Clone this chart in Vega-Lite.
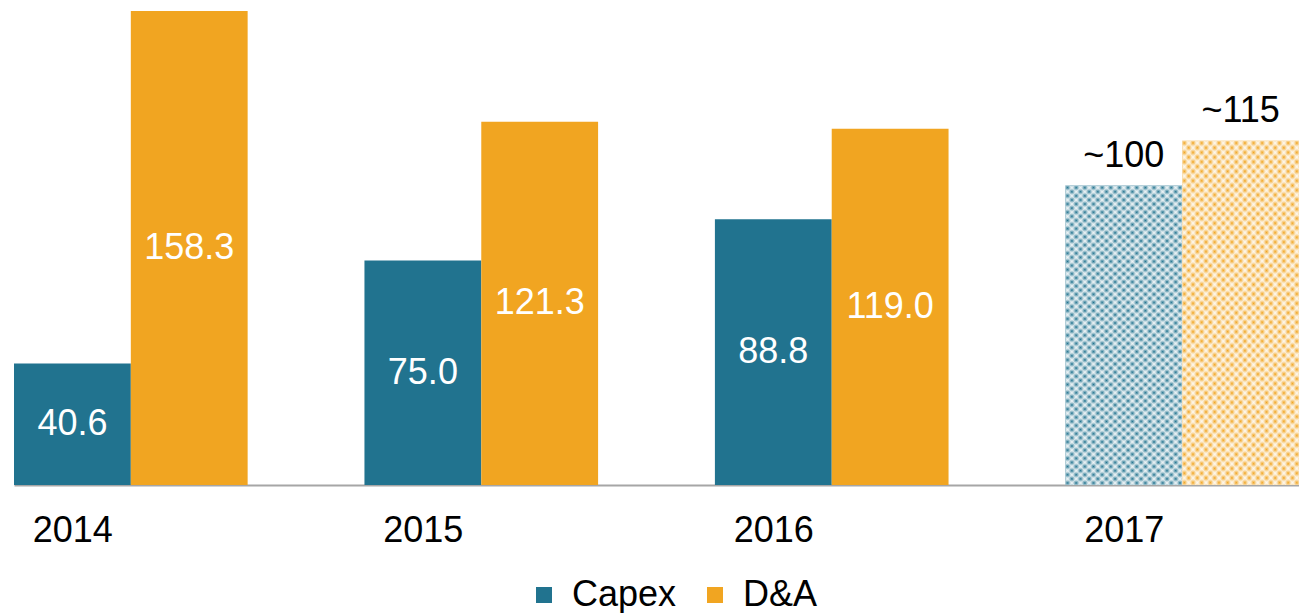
{
  "$schema": "https://vega.github.io/schema/vega-lite/v6.json",
  "width": 1285,
  "height": 485,
  "padding": {"left": 14, "top": 0, "right": 0, "bottom": 0},
  "background": "white",
  "config": {
    "view": {"stroke": null},
    "font": "Liberation Sans",
    "axis": {"grid": false}
  },
  "data": {
    "values": [
      {"year": "2014", "series": "Capex", "value": 40.6, "label": "40.6"},
      {"year": "2014", "series": "D&A", "value": 158.3, "label": "158.3"},
      {"year": "2015", "series": "Capex", "value": 75.0, "label": "75.0"},
      {"year": "2015", "series": "D&A", "value": 121.3, "label": "121.3"},
      {"year": "2016", "series": "Capex", "value": 88.8, "label": "88.8"},
      {"year": "2016", "series": "D&A", "value": 119.0, "label": "119.0"},
      {"year": "2017", "series": "Capex", "value": 100, "label": "~100"},
      {"year": "2017", "series": "D&A", "value": 115, "label": "~115"}
    ]
  },
  "encoding": {
    "x": {
      "field": "year",
      "type": "nominal",
      "title": null,
      "scale": {"domain": ["2014", "2015", "2016", "2017"], "paddingInner": 0.3333, "paddingOuter": 0},
      "axis": {
        "domainColor": "#a6a6a6",
        "domainWidth": 2,
        "ticks": false,
        "labelFontSize": 36,
        "labelColor": "#000000",
        "labelPadding": 28,
        "labelOffset": -58,
        "labelAngle": 0
      }
    },
    "xOffset": {
      "field": "series",
      "type": "nominal",
      "scale": {"domain": ["Capex", "D&A"], "paddingInner": 0, "paddingOuter": 0}
    }
  },
  "layer": [
    {
      "mark": {"type": "bar"},
      "encoding": {
        "y": {"field": "value", "type": "quantitative", "scale": {"domain": [0, 162], "nice": false}, "axis": null},
        "color": {
          "field": "series",
          "type": "nominal",
          "scale": {"domain": ["Capex", "D&A"], "range": ["#21738F", "#F1A521"]},
          "legend": {
            "orient": "none",
            "legendX": 512,
            "legendY": 577,
            "direction": "horizontal",
            "title": null,
            "symbolType": "square",
            "symbolSize": 256,
            "symbolStrokeWidth": 0,
            "labelFontSize": 36,
            "labelColor": "#000000",
            "labelOffset": 10,
            "columnPadding": 20
          }
        }
      }
    },
    {
      "transform": [{"filter": "datum.year == '2017'"}],
      "mark": {
        "type": "bar",
        "fillOpacity": 0.75,
        "fill": {
          "gradient": "linear", "x1": 0, "y1": 0, "x2": 0.446, "y2": 1.205,
          "stops": [
            {"offset": 0, "color": "#fff"}, {"offset": 0.01, "color": "rgba(255,255,255,0)"},
            {"offset": 0.02, "color": "#fff"}, {"offset": 0.03, "color": "rgba(255,255,255,0)"},
            {"offset": 0.04, "color": "#fff"}, {"offset": 0.05, "color": "rgba(255,255,255,0)"},
            {"offset": 0.06, "color": "#fff"}, {"offset": 0.07, "color": "rgba(255,255,255,0)"},
            {"offset": 0.08, "color": "#fff"}, {"offset": 0.09, "color": "rgba(255,255,255,0)"},
            {"offset": 0.10, "color": "#fff"}, {"offset": 0.11, "color": "rgba(255,255,255,0)"},
            {"offset": 0.12, "color": "#fff"}, {"offset": 0.13, "color": "rgba(255,255,255,0)"},
            {"offset": 0.14, "color": "#fff"}, {"offset": 0.15, "color": "rgba(255,255,255,0)"},
            {"offset": 0.16, "color": "#fff"}, {"offset": 0.17, "color": "rgba(255,255,255,0)"},
            {"offset": 0.18, "color": "#fff"}, {"offset": 0.19, "color": "rgba(255,255,255,0)"},
            {"offset": 0.20, "color": "#fff"}, {"offset": 0.21, "color": "rgba(255,255,255,0)"},
            {"offset": 0.22, "color": "#fff"}, {"offset": 0.23, "color": "rgba(255,255,255,0)"},
            {"offset": 0.24, "color": "#fff"}, {"offset": 0.25, "color": "rgba(255,255,255,0)"},
            {"offset": 0.26, "color": "#fff"}, {"offset": 0.27, "color": "rgba(255,255,255,0)"},
            {"offset": 0.28, "color": "#fff"}, {"offset": 0.29, "color": "rgba(255,255,255,0)"},
            {"offset": 0.30, "color": "#fff"}, {"offset": 0.31, "color": "rgba(255,255,255,0)"},
            {"offset": 0.32, "color": "#fff"}, {"offset": 0.33, "color": "rgba(255,255,255,0)"},
            {"offset": 0.34, "color": "#fff"}, {"offset": 0.35, "color": "rgba(255,255,255,0)"},
            {"offset": 0.36, "color": "#fff"}, {"offset": 0.37, "color": "rgba(255,255,255,0)"},
            {"offset": 0.38, "color": "#fff"}, {"offset": 0.39, "color": "rgba(255,255,255,0)"},
            {"offset": 0.40, "color": "#fff"}, {"offset": 0.41, "color": "rgba(255,255,255,0)"},
            {"offset": 0.42, "color": "#fff"}, {"offset": 0.43, "color": "rgba(255,255,255,0)"},
            {"offset": 0.44, "color": "#fff"}, {"offset": 0.45, "color": "rgba(255,255,255,0)"},
            {"offset": 0.46, "color": "#fff"}, {"offset": 0.47, "color": "rgba(255,255,255,0)"},
            {"offset": 0.48, "color": "#fff"}, {"offset": 0.49, "color": "rgba(255,255,255,0)"},
            {"offset": 0.50, "color": "#fff"}, {"offset": 0.51, "color": "rgba(255,255,255,0)"},
            {"offset": 0.52, "color": "#fff"}, {"offset": 0.53, "color": "rgba(255,255,255,0)"},
            {"offset": 0.54, "color": "#fff"}, {"offset": 0.55, "color": "rgba(255,255,255,0)"},
            {"offset": 0.56, "color": "#fff"}, {"offset": 0.57, "color": "rgba(255,255,255,0)"},
            {"offset": 0.58, "color": "#fff"}, {"offset": 0.59, "color": "rgba(255,255,255,0)"},
            {"offset": 0.60, "color": "#fff"}, {"offset": 0.61, "color": "rgba(255,255,255,0)"},
            {"offset": 0.62, "color": "#fff"}, {"offset": 0.63, "color": "rgba(255,255,255,0)"},
            {"offset": 0.64, "color": "#fff"}, {"offset": 0.65, "color": "rgba(255,255,255,0)"},
            {"offset": 0.66, "color": "#fff"}, {"offset": 0.67, "color": "rgba(255,255,255,0)"},
            {"offset": 0.68, "color": "#fff"}, {"offset": 0.69, "color": "rgba(255,255,255,0)"},
            {"offset": 0.70, "color": "#fff"}, {"offset": 0.71, "color": "rgba(255,255,255,0)"},
            {"offset": 0.72, "color": "#fff"}, {"offset": 0.73, "color": "rgba(255,255,255,0)"},
            {"offset": 0.74, "color": "#fff"}, {"offset": 0.75, "color": "rgba(255,255,255,0)"},
            {"offset": 0.76, "color": "#fff"}, {"offset": 0.77, "color": "rgba(255,255,255,0)"},
            {"offset": 0.78, "color": "#fff"}, {"offset": 0.79, "color": "rgba(255,255,255,0)"},
            {"offset": 0.80, "color": "#fff"}, {"offset": 0.81, "color": "rgba(255,255,255,0)"},
            {"offset": 0.82, "color": "#fff"}, {"offset": 0.83, "color": "rgba(255,255,255,0)"},
            {"offset": 0.84, "color": "#fff"}, {"offset": 0.85, "color": "rgba(255,255,255,0)"},
            {"offset": 0.86, "color": "#fff"}, {"offset": 0.87, "color": "rgba(255,255,255,0)"},
            {"offset": 0.88, "color": "#fff"}, {"offset": 0.89, "color": "rgba(255,255,255,0)"},
            {"offset": 0.90, "color": "#fff"}, {"offset": 0.91, "color": "rgba(255,255,255,0)"},
            {"offset": 0.92, "color": "#fff"}, {"offset": 0.93, "color": "rgba(255,255,255,0)"},
            {"offset": 0.94, "color": "#fff"}, {"offset": 0.95, "color": "rgba(255,255,255,0)"},
            {"offset": 0.96, "color": "#fff"}, {"offset": 0.97, "color": "rgba(255,255,255,0)"},
            {"offset": 0.98, "color": "#fff"}, {"offset": 0.99, "color": "rgba(255,255,255,0)"},
            {"offset": 1, "color": "#fff"}
          ]
        }
      },
      "encoding": {
        "y": {"field": "value", "type": "quantitative", "scale": {"domain": [0, 162], "nice": false}, "axis": null}
      }
    },
    {
      "transform": [{"filter": "datum.year == '2017'"}],
      "mark": {
        "type": "bar",
        "fillOpacity": 0.75,
        "fill": {
          "gradient": "linear", "x1": 1, "y1": 0, "x2": 0.554, "y2": 1.205,
          "stops": [
            {"offset": 0, "color": "#fff"}, {"offset": 0.01, "color": "rgba(255,255,255,0)"},
            {"offset": 0.02, "color": "#fff"}, {"offset": 0.03, "color": "rgba(255,255,255,0)"},
            {"offset": 0.04, "color": "#fff"}, {"offset": 0.05, "color": "rgba(255,255,255,0)"},
            {"offset": 0.06, "color": "#fff"}, {"offset": 0.07, "color": "rgba(255,255,255,0)"},
            {"offset": 0.08, "color": "#fff"}, {"offset": 0.09, "color": "rgba(255,255,255,0)"},
            {"offset": 0.10, "color": "#fff"}, {"offset": 0.11, "color": "rgba(255,255,255,0)"},
            {"offset": 0.12, "color": "#fff"}, {"offset": 0.13, "color": "rgba(255,255,255,0)"},
            {"offset": 0.14, "color": "#fff"}, {"offset": 0.15, "color": "rgba(255,255,255,0)"},
            {"offset": 0.16, "color": "#fff"}, {"offset": 0.17, "color": "rgba(255,255,255,0)"},
            {"offset": 0.18, "color": "#fff"}, {"offset": 0.19, "color": "rgba(255,255,255,0)"},
            {"offset": 0.20, "color": "#fff"}, {"offset": 0.21, "color": "rgba(255,255,255,0)"},
            {"offset": 0.22, "color": "#fff"}, {"offset": 0.23, "color": "rgba(255,255,255,0)"},
            {"offset": 0.24, "color": "#fff"}, {"offset": 0.25, "color": "rgba(255,255,255,0)"},
            {"offset": 0.26, "color": "#fff"}, {"offset": 0.27, "color": "rgba(255,255,255,0)"},
            {"offset": 0.28, "color": "#fff"}, {"offset": 0.29, "color": "rgba(255,255,255,0)"},
            {"offset": 0.30, "color": "#fff"}, {"offset": 0.31, "color": "rgba(255,255,255,0)"},
            {"offset": 0.32, "color": "#fff"}, {"offset": 0.33, "color": "rgba(255,255,255,0)"},
            {"offset": 0.34, "color": "#fff"}, {"offset": 0.35, "color": "rgba(255,255,255,0)"},
            {"offset": 0.36, "color": "#fff"}, {"offset": 0.37, "color": "rgba(255,255,255,0)"},
            {"offset": 0.38, "color": "#fff"}, {"offset": 0.39, "color": "rgba(255,255,255,0)"},
            {"offset": 0.40, "color": "#fff"}, {"offset": 0.41, "color": "rgba(255,255,255,0)"},
            {"offset": 0.42, "color": "#fff"}, {"offset": 0.43, "color": "rgba(255,255,255,0)"},
            {"offset": 0.44, "color": "#fff"}, {"offset": 0.45, "color": "rgba(255,255,255,0)"},
            {"offset": 0.46, "color": "#fff"}, {"offset": 0.47, "color": "rgba(255,255,255,0)"},
            {"offset": 0.48, "color": "#fff"}, {"offset": 0.49, "color": "rgba(255,255,255,0)"},
            {"offset": 0.50, "color": "#fff"}, {"offset": 0.51, "color": "rgba(255,255,255,0)"},
            {"offset": 0.52, "color": "#fff"}, {"offset": 0.53, "color": "rgba(255,255,255,0)"},
            {"offset": 0.54, "color": "#fff"}, {"offset": 0.55, "color": "rgba(255,255,255,0)"},
            {"offset": 0.56, "color": "#fff"}, {"offset": 0.57, "color": "rgba(255,255,255,0)"},
            {"offset": 0.58, "color": "#fff"}, {"offset": 0.59, "color": "rgba(255,255,255,0)"},
            {"offset": 0.60, "color": "#fff"}, {"offset": 0.61, "color": "rgba(255,255,255,0)"},
            {"offset": 0.62, "color": "#fff"}, {"offset": 0.63, "color": "rgba(255,255,255,0)"},
            {"offset": 0.64, "color": "#fff"}, {"offset": 0.65, "color": "rgba(255,255,255,0)"},
            {"offset": 0.66, "color": "#fff"}, {"offset": 0.67, "color": "rgba(255,255,255,0)"},
            {"offset": 0.68, "color": "#fff"}, {"offset": 0.69, "color": "rgba(255,255,255,0)"},
            {"offset": 0.70, "color": "#fff"}, {"offset": 0.71, "color": "rgba(255,255,255,0)"},
            {"offset": 0.72, "color": "#fff"}, {"offset": 0.73, "color": "rgba(255,255,255,0)"},
            {"offset": 0.74, "color": "#fff"}, {"offset": 0.75, "color": "rgba(255,255,255,0)"},
            {"offset": 0.76, "color": "#fff"}, {"offset": 0.77, "color": "rgba(255,255,255,0)"},
            {"offset": 0.78, "color": "#fff"}, {"offset": 0.79, "color": "rgba(255,255,255,0)"},
            {"offset": 0.80, "color": "#fff"}, {"offset": 0.81, "color": "rgba(255,255,255,0)"},
            {"offset": 0.82, "color": "#fff"}, {"offset": 0.83, "color": "rgba(255,255,255,0)"},
            {"offset": 0.84, "color": "#fff"}, {"offset": 0.85, "color": "rgba(255,255,255,0)"},
            {"offset": 0.86, "color": "#fff"}, {"offset": 0.87, "color": "rgba(255,255,255,0)"},
            {"offset": 0.88, "color": "#fff"}, {"offset": 0.89, "color": "rgba(255,255,255,0)"},
            {"offset": 0.90, "color": "#fff"}, {"offset": 0.91, "color": "rgba(255,255,255,0)"},
            {"offset": 0.92, "color": "#fff"}, {"offset": 0.93, "color": "rgba(255,255,255,0)"},
            {"offset": 0.94, "color": "#fff"}, {"offset": 0.95, "color": "rgba(255,255,255,0)"},
            {"offset": 0.96, "color": "#fff"}, {"offset": 0.97, "color": "rgba(255,255,255,0)"},
            {"offset": 0.98, "color": "#fff"}, {"offset": 0.99, "color": "rgba(255,255,255,0)"},
            {"offset": 1, "color": "#fff"}
          ]
        }
      },
      "encoding": {
        "y": {"field": "value", "type": "quantitative", "scale": {"domain": [0, 162], "nice": false}, "axis": null}
      }
    },
    {
      "transform": [{"filter": "datum.year != '2017'"}],
      "mark": {"type": "text", "color": "#ffffff", "fontSize": 36, "baseline": "middle", "align": "center"},
      "encoding": {
        "y": {"field": "value", "type": "quantitative", "scale": {"domain": [0, 324], "nice": false}, "axis": null},
        "text": {"field": "label", "type": "nominal"}
      }
    },
    {
      "transform": [{"filter": "datum.year == '2017'"}],
      "mark": {"type": "text", "color": "#000000", "fontSize": 36, "baseline": "alphabetic", "align": "center", "dy": -19},
      "encoding": {
        "y": {"field": "value", "type": "quantitative", "scale": {"domain": [0, 162], "nice": false}, "axis": null},
        "text": {"field": "label", "type": "nominal"}
      }
    }
  ],
  "resolve": {"scale": {"y": "independent"}}
}
